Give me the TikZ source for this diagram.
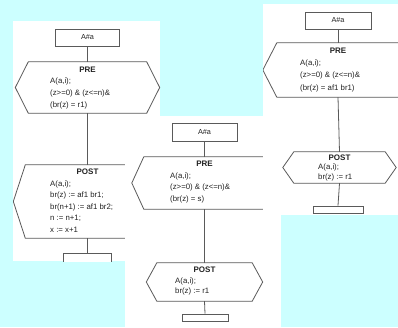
\documentclass[tikz,border=0pt]{standalone}
\usepackage{fontspec}
\setmainfont{Liberation Sans}
\definecolor{bgc}{HTML}{CCFFFF}
\definecolor{lc}{HTML}{5A5A5A}
\definecolor{tc}{HTML}{222222}
\tikzset{
  ln/.style={draw=lc, line width=0.8pt},
  tx/.style={anchor=base west, inner sep=0pt, font=\fontsize{7.8}{9}\selectfont, text=tc},
  hd/.style={anchor=base, inner sep=0pt, font=\fontsize{8}{9}\selectfont\bfseries, text=tc},
  bx/.style={draw=lc, line width=0.8pt, fill=white, inner sep=0pt, font=\fontsize{7.3}{9}\selectfont, text=tc},
  hx/.style={inner sep=0pt, draw=none},
  panel/.style={fill=white, draw=none},
}
\newcommand\hexof[2]{\draw[ln] (#1.north west) -- (#1.north east) -- ([xshift=#2]#1.east) -- (#1.south east) -- (#1.south west) -- ([xshift=-#2]#1.west) -- cycle;}
\begin{document}
\begin{tikzpicture}[x=1pt,y=-1pt]
\fill[bgc] (0,0) rectangle (398,327);
\useasboundingbox (0,0) rectangle (398,327);
% ---------- left panel
\fill[panel] (13,21) rectangle (160,261);
\begin{scope}
\clip (13,21) rectangle (160,261);
\node[bx, minimum width=64pt, minimum height=17pt] (bL) at (87.5,37.5) {A\#a};
\node[hx, minimum width=118pt, minimum height=51pt] (pL) at (87.5,87.5) {};
\hexof{pL}{13pt}
\node[hd] (pLh) at (87.5,72) {PRE};
\node[tx] (pL1) at (50,83.5) {A(a,i);};
\node[tx] (pL2) at (50,95.5) {(z>=0) \& (z<=n)\&};
\node[tx] (pL3) at (50,107.5) {(br(z) = r1)};
\node[hx, minimum width=124pt, minimum height=73pt] (qL) at (87.5,201.5) {};
\hexof{qL}{12pt}
\node[hd] (qLh) at (87.5,174.5) {POST};
\node[tx] (qL1) at (50,186) {A(a,i);};
\node[tx] (qL2) at (50,197.5) {br(z) := af1 br1;};
\node[tx] (qL3) at (50,209) {br(n+1) := af1 br2;};
\node[tx] (qL4) at (50,220.5) {n := n+1;};
\node[tx] (qL5) at (50,232) {x := x+1};
\node[bx, minimum width=48pt, minimum height=10pt] (eL) at (87.5,258) {};
\draw[ln] (bL.south) -- (pL.north);
\draw[ln] (pL.south) -- (qL.north);
\draw[ln] (qL.south) -- (eL.north);
\end{scope}
% ---------- middle panel
\fill[panel] (125,116) rectangle (281,327);
\begin{scope}
\clip (125,116) rectangle (281,327);
\node[bx, minimum width=65pt, minimum height=18pt] (bM) at (204.5,132) {A\#a};
\node[hx, minimum width=121pt, minimum height=52pt] (pM) at (204.5,183) {};
\hexof{pM}{12pt}
\node[hd] (pMh) at (204.5,166.5) {PRE};
\node[tx] (pM1) at (170,178) {A(a,i);};
\node[tx] (pM2) at (170,189.5) {(z>=0) \& (z<=n)\&};
\node[tx] (pM3) at (170,201) {(br(z) = s)};
\node[hx, minimum width=95pt, minimum height=38pt] (qM) at (204.5,282) {};
\hexof{qM}{10.5pt}
\node[hd] (qMh) at (204.5,272.5) {POST};
\node[tx] (qM1) at (175,283) {A(a,i);};
\node[tx] (qM2) at (175,293.5) {br(z) := r1};
\node[bx, minimum width=46pt, minimum height=7pt] (eM) at (205,317.5) {};
\draw[ln] (bM.south) -- (pM.north);
\draw[ln] (pM.south) -- (qM.north);
\draw[ln] (qM.south) -- (eM.north);
\end{scope}
% ---------- right panel
\fill[panel] (263,4) rectangle (398,215);
\begin{scope}
\clip (263,4) rectangle (398,215);
\node[bx, minimum width=66pt, minimum height=17pt] (bR) at (338,20.5) {A\#a};
\node[hx, minimum width=122pt, minimum height=54pt] (pR) at (338,70) {};
\hexof{pR}{14pt}
\node[hd] (pRh) at (338,53) {PRE};
\node[tx] (pR1) at (300,65) {A(a,i);};
\node[tx] (pR2) at (300,77.5) {(z>=0) \& (z<=n)\&};
\node[tx] (pR3) at (300,90) {(br(z) = af1 br1)};
\node[hx, minimum width=91pt, minimum height=31pt] (qR) at (339.5,167.5) {};
\hexof{qR}{11pt}
\node[hd] (qRh) at (339.5,160) {POST};
\node[tx] (qR1) at (318,169.5) {A(a,i);};
\node[tx] (qR2) at (318,179) {br(z) := r1};
\node[bx, minimum width=50pt, minimum height=7pt] (eR) at (338,209.5) {};
\draw[ln] (bR.south) -- (pR.north);
\draw[ln] (pR.south) -- (qR.north);
\draw[ln] (qR.south) -- (eR.north);
\end{scope}
\end{tikzpicture}
\end{document}
